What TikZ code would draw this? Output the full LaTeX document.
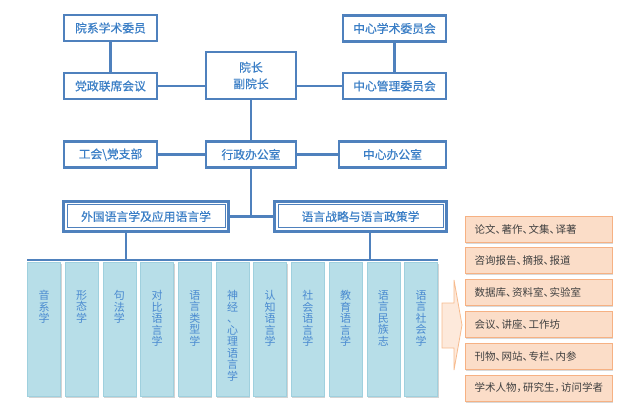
\documentclass[tikz,border=0pt]{standalone}
\usepackage{fontspec}
\setmainfont{Noto Sans CJK SC}
\newfontfamily\medcjk[FakeBold=0.6]{Noto Sans CJK SC}
\usepackage{xcolor}
\usepackage{tikz}
\usetikzlibrary{matrix, positioning, shadows}

\definecolor{bl}{HTML}{4F81BD}
\definecolor{btxt}{HTML}{3A7EC6}
\definecolor{cfill}{HTML}{B7DEE8}
\definecolor{cdraw}{HTML}{9FD0DE}
\definecolor{ctxt}{HTML}{4A8AD0}
\definecolor{ofill}{HTML}{FBDDC8}
\definecolor{odraw}{HTML}{F6B183}
\definecolor{otxt}{HTML}{404040}
\definecolor{afill}{HTML}{FDE9DB}
\definecolor{adraw}{HTML}{F7BB8E}

% narrow punctuation
\newcommand{\dunhao}{\makebox[6pt][l]{、}}
\newcommand{\douhao}{\makebox[6.5pt][l]{，}}

\begin{document}
\begin{tikzpicture}
[x=1pt, y=-1pt,
box/.style={rectangle, draw=bl, line width=2.5pt, fill=white, text=btxt, align=center, inner sep=1pt, minimum height=26pt, font=\medcjk\fontsize{11.8}{16.5}\selectfont},
grp/.style={box, line width=3pt, minimum height=30pt,
  path picture={\draw[bl, line width=1pt] ([shift={(3.5pt,3.5pt)}]path picture bounding box.south west) rectangle ([shift={(-3.5pt,-3.5pt)}]path picture bounding box.north east);}},
col/.style={rectangle, draw=cdraw, fill=cfill, line width=0.6pt, minimum width=33pt, minimum height=134pt, drop shadow={shadow xshift=1pt, shadow yshift=-1.5pt, opacity=0.35}},
ctext/.style={align=center, inner sep=0pt, text=ctxt, font=\fontsize{11}{11.5}\selectfont},
outbox/.style={rectangle, draw=odraw, fill=ofill, line width=0.8pt, text=otxt, text width=128pt, align=left, inner xsep=9.5pt, minimum height=26pt, font=\fontsize{10.5}{13}\selectfont, drop shadow={shadow xshift=1pt, shadow yshift=-1.5pt, opacity=0.3}},
ln/.style={draw=bl, line width=2.5pt}]

\useasboundingbox (0,0) rectangle (640,414);

% top boxes
\node[box, minimum width=93pt] (xs) at (110.5,28) {院系学术委员};
\node[box, minimum width=93pt] (dz) at (110.5,86) {党政联席会议};
\node[box, minimum width=90pt, minimum height=47pt] (yz) at (251,75.5) {院长\\副院长};
\node[box, minimum width=103pt] (zx) at (394.5,28.5) {中心学术委员会};
\node[box, minimum width=103pt] (zg) at (394.5,86) {中心管理委员会};
\node[box, minimum width=93pt] (gh) at (110.5,154.5) {工会\textbackslash 党支部};
\node[box, minimum width=90pt] (xb) at (251,154.5) {行政办公室};
\node[box, minimum width=107pt] (zb) at (392.5,154.5) {中心办公室};
\node[grp, minimum width=165pt] (wg) at (146,216.5) {外国语言学及应用语言学};
\node[grp, minimum width=172pt] (zl) at (360.5,216.5) {语言战略与语言政策学};

\coordinate (wd) at (126,260);
\coordinate (zd) at (370,260);

% connectors
\draw[ln] (xs) -- (dz);
\draw[ln] (zx) -- (zg);
\draw[ln] (dz.east) -- (dz.east -| yz.west);
\draw[ln] (zg.west) -- (zg.west -| yz.east);
\draw[ln] (yz) -- (xb);
\draw[ln] (gh) -- (xb);
\draw[ln] (xb) -- (zb);
\draw[ln] (xb.south) -- (xb.south |- wg.east);
\draw[ln] (wg) -- (zl);
\draw[ln] (wg.south -| wd) -- (wd);
\draw[ln] (zl.south -| zd) -- (zd);

% columns
\foreach \t [count=\i] in {{音\\系\\学}, {形\\态\\学}, {句\\法\\学}, {对\\比\\语\\言\\学}, {语\\言\\类\\型\\学},
  {神\\经\\、\\心\\理\\语\\言\\学}, {认\\知\\语\\言\\学}, {社\\会\\语\\言\\学}, {教\\育\\语\\言\\学},
  {语\\言\\民\\族\\志}, {语\\言\\社\\会\\学}} {
  \node[col] (c\i) at ({44+37.7*(\i-1)},329.5) {};
  \node[ctext, below=28pt of c\i.north] (t\i) {\t};
}
\draw[ln] (wd -| c1.west) -- (wd -| c11.east);

% arrow
\draw[fill=afill, draw=adraw, line width=0.8pt] (442,303) -- (454,303) -- (454,280) -- (462,325) -- (454,370) -- (454,348) -- (442,348) -- cycle;

% results
\matrix (res) [matrix of nodes, row sep=5pt, nodes={outbox}] at (538.5,308.5) {
论文\dunhao 著作\dunhao 文集\dunhao 译著 \\
咨询报告\dunhao 摘报\dunhao 报道 \\
数据库\dunhao 资料室\dunhao 实验室 \\
会议\dunhao 讲座\dunhao 工作坊 \\
刊物\dunhao 网站\dunhao 专栏\dunhao 内参 \\
学术人物\douhao 研究生\douhao 访问学者 \\
};
\end{tikzpicture}
\end{document}
